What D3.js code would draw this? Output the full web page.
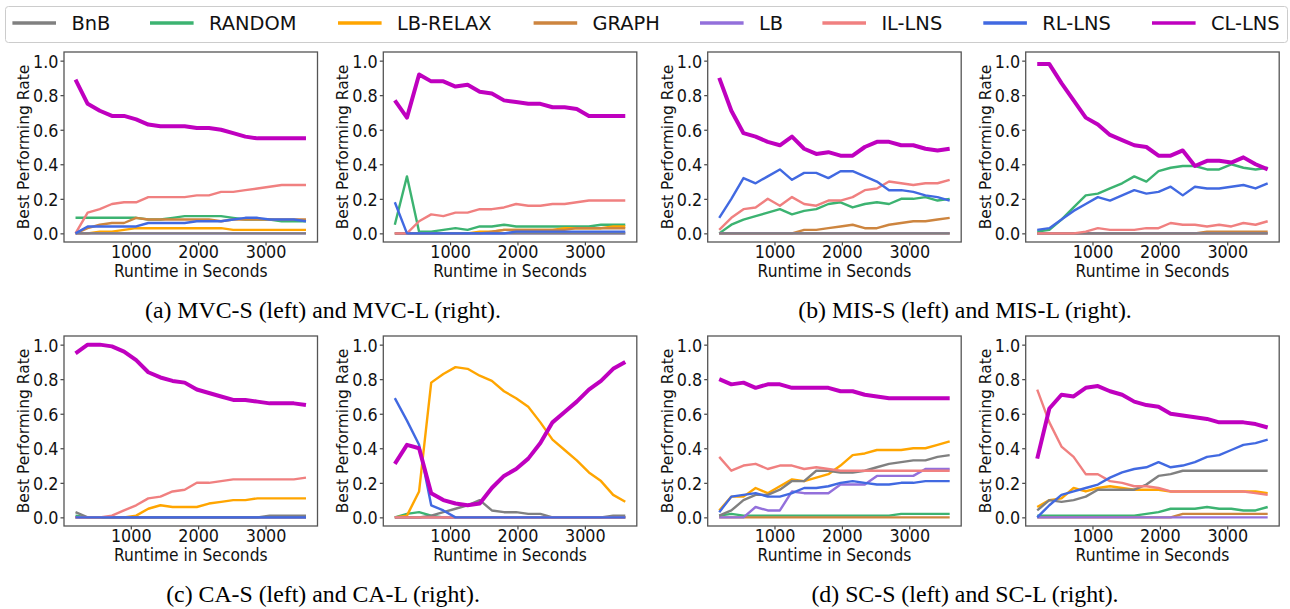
<!DOCTYPE html>
<html>
<head>
<meta charset="utf-8">
<script src="https://cdn.jsdelivr.net/npm/d3@7"></script>
<style>
  html, body { margin: 0; padding: 0; background: #fff; }
  svg { display: block; }
</style>
</head>
<body>
<svg id="chart" width="1290" height="609"></svg>
<script>
// ---------------- DATA ----------------
const runtimes = [180,360,540,720,900,1080,1260,1440,1620,1800,1980,2160,2340,2520,2700,2880,3060,3240,3420,3600];
const seriesNames = ["BnB","RANDOM","LB-RELAX","GRAPH","LB","IL-LNS","RL-LNS","CL-LNS"];
const seriesColors = ["#808080","#3cb371","#ffa500","#cd853f","#9370db","#f08080","#4169e1","#bf00bf"];
const xTicks = [1000, 2000, 3000];
const yTicks = [0.0, 0.2, 0.4, 0.6, 0.8, 1.0];
const captions = ["(a) MVC-S (left) and MVC-L (right).", "(b) MIS-S (left) and MIS-L (right).",
                  "(c) CA-S (left) and CA-L (right).", "(d) SC-S (left) and SC-L (right)."];
const Z = new Array(20).fill(0);

const mvcS = {
  "BnB": Z,
  "RANDOM":  [0.09,0.09,0.09,0.09,0.09,0.09,0.08,0.08,0.09,0.10,0.10,0.10,0.10,0.09,0.08,0.08,0.08,0.07,0.07,0.07],
  "LB-RELAX":[0.00,0.00,0.01,0.01,0.02,0.03,0.03,0.03,0.03,0.03,0.03,0.03,0.03,0.02,0.02,0.02,0.02,0.02,0.02,0.02],
  "GRAPH":   [0.00,0.03,0.05,0.06,0.06,0.09,0.08,0.08,0.08,0.08,0.08,0.08,0.07,0.08,0.08,0.08,0.08,0.08,0.08,0.08],
  "LB": Z,
  "IL-LNS":  [0.00,0.12,0.14,0.17,0.18,0.18,0.21,0.21,0.21,0.21,0.22,0.22,0.24,0.24,0.25,0.26,0.27,0.28,0.28,0.28],
  "RL-LNS":  [0.00,0.04,0.04,0.04,0.04,0.04,0.06,0.06,0.06,0.06,0.07,0.07,0.07,0.08,0.09,0.09,0.08,0.08,0.08,0.07],
  "CL-LNS":  [0.89,0.75,0.71,0.68,0.68,0.66,0.63,0.62,0.62,0.62,0.61,0.61,0.60,0.58,0.56,0.55,0.55,0.55,0.55,0.55]
};
const mvcL = {
  "BnB": Z,
  "RANDOM":  [0.05,0.33,0.01,0.01,0.02,0.03,0.02,0.04,0.04,0.05,0.04,0.04,0.04,0.04,0.04,0.04,0.04,0.05,0.05,0.05],
  "LB-RELAX":[0.00,0.00,0.00,0.00,0.00,0.00,0.00,0.01,0.01,0.02,0.02,0.02,0.02,0.02,0.03,0.03,0.03,0.03,0.04,0.04],
  "GRAPH":   [0.00,0.00,0.00,0.00,0.00,0.00,0.00,0.00,0.01,0.02,0.02,0.02,0.02,0.02,0.02,0.03,0.03,0.03,0.03,0.03],
  "LB": Z,
  "IL-LNS":  [0.00,0.00,0.07,0.11,0.10,0.12,0.12,0.14,0.14,0.15,0.17,0.16,0.16,0.17,0.17,0.18,0.19,0.19,0.19,0.19],
  "RL-LNS":  [0.18,0.00,0.00,0.00,0.00,0.00,0.00,0.00,0.00,0.00,0.01,0.01,0.01,0.01,0.01,0.01,0.01,0.01,0.01,0.01],
  "CL-LNS":  [0.77,0.67,0.92,0.88,0.88,0.85,0.86,0.82,0.81,0.77,0.76,0.75,0.75,0.73,0.73,0.72,0.68,0.68,0.68,0.68]
};
const misS = {
  "BnB": Z,
  "RANDOM":  [0.00,0.05,0.08,0.10,0.12,0.14,0.11,0.13,0.14,0.17,0.18,0.15,0.17,0.18,0.17,0.20,0.20,0.21,0.19,0.20],
  "LB-RELAX": Z,
  "GRAPH":   [0.00,0.00,0.00,0.00,0.00,0.00,0.00,0.02,0.02,0.03,0.04,0.05,0.03,0.03,0.05,0.06,0.07,0.07,0.08,0.09],
  "LB": Z,
  "IL-LNS":  [0.02,0.09,0.14,0.15,0.20,0.16,0.21,0.17,0.16,0.19,0.19,0.21,0.25,0.26,0.30,0.29,0.28,0.29,0.29,0.31],
  "RL-LNS":  [0.09,0.20,0.32,0.29,0.33,0.37,0.31,0.35,0.35,0.32,0.36,0.36,0.33,0.30,0.25,0.25,0.24,0.22,0.21,0.19],
  "CL-LNS":  [0.90,0.71,0.58,0.56,0.53,0.51,0.56,0.49,0.46,0.47,0.45,0.45,0.50,0.53,0.53,0.51,0.51,0.49,0.48,0.49]
};
const misL = {
  "BnB": Z,
  "RANDOM":  [0.01,0.02,0.08,0.15,0.22,0.23,0.26,0.29,0.33,0.30,0.36,0.38,0.39,0.39,0.37,0.37,0.40,0.38,0.37,0.38],
  "LB-RELAX": Z,
  "GRAPH":   [0.00,0.00,0.00,0.00,0.00,0.00,0.00,0.00,0.00,0.00,0.00,0.00,0.00,0.00,0.01,0.01,0.01,0.01,0.01,0.01],
  "LB": Z,
  "IL-LNS":  [0.00,0.00,0.00,0.00,0.01,0.03,0.02,0.02,0.02,0.03,0.03,0.06,0.05,0.05,0.04,0.05,0.04,0.06,0.05,0.07],
  "RL-LNS":  [0.02,0.03,0.08,0.13,0.17,0.21,0.19,0.22,0.25,0.23,0.24,0.27,0.22,0.27,0.26,0.26,0.27,0.28,0.26,0.29],
  "CL-LNS":  [0.98,0.98,0.87,0.77,0.67,0.63,0.57,0.54,0.51,0.50,0.45,0.45,0.48,0.39,0.42,0.42,0.41,0.44,0.40,0.37]
};
const caS = {
  "BnB":     [0.03,0.00,0.00,0.00,0.00,0.00,0.00,0.00,0.00,0.00,0.00,0.00,0.00,0.00,0.00,0.00,0.01,0.01,0.01,0.01],
  "RANDOM":  [0.01,0.00,0.00,0.00,0.00,0.00,0.00,0.00,0.00,0.00,0.00,0.00,0.00,0.00,0.00,0.00,0.00,0.00,0.00,0.00],
  "LB-RELAX":[0.00,0.00,0.00,0.00,0.00,0.01,0.05,0.07,0.06,0.06,0.06,0.08,0.09,0.10,0.10,0.11,0.11,0.11,0.11,0.11],
  "GRAPH": Z,
  "LB": Z,
  "IL-LNS":  [0.00,0.00,0.00,0.01,0.04,0.07,0.11,0.12,0.15,0.16,0.20,0.20,0.21,0.22,0.22,0.22,0.22,0.22,0.22,0.23],
  "RL-LNS": Z,
  "CL-LNS":  [0.95,1.00,1.00,0.99,0.96,0.91,0.84,0.81,0.79,0.78,0.74,0.72,0.70,0.68,0.68,0.67,0.66,0.66,0.66,0.65]
};
const caL = {
  "BnB":     [0.00,0.00,0.00,0.01,0.03,0.05,0.07,0.10,0.04,0.03,0.03,0.02,0.02,0.00,0.00,0.00,0.00,0.00,0.01,0.01],
  "RANDOM":  [0.00,0.02,0.03,0.01,0.00,0.00,0.00,0.00,0.00,0.00,0.00,0.00,0.00,0.00,0.00,0.00,0.00,0.00,0.00,0.00],
  "LB-RELAX":[0.00,0.01,0.15,0.78,0.83,0.87,0.86,0.82,0.79,0.73,0.69,0.64,0.55,0.45,0.39,0.33,0.26,0.21,0.13,0.09],
  "GRAPH": Z,
  "LB": Z,
  "IL-LNS": Z,
  "RL-LNS":  [0.69,0.56,0.42,0.07,0.04,0.00,0.00,0.00,0.00,0.00,0.00,0.00,0.00,0.00,0.00,0.00,0.00,0.00,0.00,0.00],
  "CL-LNS":  [0.31,0.42,0.40,0.14,0.10,0.08,0.07,0.08,0.17,0.24,0.28,0.34,0.43,0.55,0.61,0.67,0.74,0.79,0.86,0.90]
};
const scS = {
  "BnB":     [0.01,0.04,0.10,0.13,0.13,0.16,0.21,0.21,0.27,0.27,0.26,0.26,0.27,0.29,0.31,0.32,0.33,0.33,0.35,0.36],
  "RANDOM":  [0.01,0.02,0.01,0.01,0.01,0.01,0.01,0.01,0.01,0.01,0.01,0.01,0.01,0.01,0.01,0.02,0.02,0.02,0.02,0.02],
  "LB-RELAX":[0.04,0.12,0.12,0.17,0.14,0.18,0.22,0.21,0.23,0.25,0.30,0.36,0.37,0.39,0.39,0.39,0.40,0.40,0.42,0.44],
  "GRAPH": Z,
  "LB":      [0.00,0.00,0.00,0.06,0.04,0.04,0.15,0.14,0.14,0.14,0.19,0.19,0.19,0.24,0.24,0.24,0.24,0.28,0.28,0.28],
  "IL-LNS":  [0.35,0.27,0.30,0.31,0.28,0.30,0.30,0.28,0.29,0.28,0.27,0.27,0.27,0.27,0.27,0.27,0.27,0.27,0.27,0.27],
  "RL-LNS":  [0.03,0.12,0.13,0.14,0.12,0.12,0.14,0.17,0.17,0.18,0.20,0.21,0.20,0.19,0.19,0.20,0.20,0.21,0.21,0.21],
  "CL-LNS":  [0.80,0.77,0.78,0.75,0.77,0.77,0.75,0.75,0.75,0.75,0.73,0.73,0.71,0.70,0.69,0.69,0.69,0.69,0.69,0.69]
};
const scL = {
  "BnB":     [0.04,0.10,0.09,0.10,0.12,0.16,0.16,0.16,0.16,0.19,0.24,0.25,0.27,0.27,0.27,0.27,0.27,0.27,0.27,0.27],
  "RANDOM":  [0.01,0.01,0.01,0.01,0.01,0.01,0.01,0.01,0.01,0.02,0.03,0.05,0.05,0.05,0.06,0.05,0.05,0.04,0.04,0.06],
  "LB-RELAX":[0.06,0.10,0.11,0.17,0.15,0.17,0.18,0.17,0.16,0.16,0.16,0.15,0.15,0.15,0.15,0.15,0.15,0.15,0.15,0.14],
  "GRAPH":   [0.00,0.00,0.00,0.00,0.00,0.00,0.00,0.00,0.00,0.00,0.00,0.00,0.02,0.02,0.02,0.02,0.02,0.02,0.02,0.02],
  "LB": Z,
  "IL-LNS":  [0.74,0.55,0.41,0.35,0.25,0.25,0.21,0.20,0.18,0.18,0.17,0.15,0.15,0.15,0.15,0.15,0.15,0.15,0.14,0.13],
  "RL-LNS":  [0.00,0.07,0.13,0.15,0.17,0.19,0.23,0.26,0.28,0.29,0.32,0.29,0.30,0.32,0.35,0.36,0.39,0.42,0.43,0.45],
  "CL-LNS":  [0.34,0.63,0.71,0.70,0.75,0.76,0.73,0.71,0.67,0.65,0.64,0.60,0.59,0.58,0.57,0.55,0.55,0.55,0.54,0.52]
};

// ---------------- LAYOUT ----------------
const svg = d3.select("#chart");
const SANS = "DejaVu Sans";
const colLeft = [64, 383.3, 707.7, 1025.7];
const colWidth = 253.5;
const rowTop = [52, 336];
const rowHeight = 190;
const panels = [
  {d: mvcS, c: 0, r: 0}, {d: mvcL, c: 1, r: 0}, {d: misS, c: 2, r: 0}, {d: misL, c: 3, r: 0},
  {d: caS, c: 0, r: 1}, {d: caL, c: 1, r: 1}, {d: scS, c: 2, r: 1}, {d: scL, c: 3, r: 1}
];
const drawOrder = ["RANDOM","LB-RELAX","GRAPH","LB","BnB","IL-LNS","RL-LNS","CL-LNS"];
const color = d3.scaleOrdinal().domain(seriesNames).range(seriesColors);
const xExt = d3.extent(runtimes), xPad = (xExt[1]-xExt[0])*0.05;
const TICK_FS = 16, LABEL_FS = 15.5, SY = 1.12;

panels.forEach(p => {
  const L = colLeft[p.c], T = rowTop[p.r], W = colWidth, H = rowHeight;
  const x = d3.scaleLinear().domain([xExt[0]-xPad, xExt[1]+xPad]).range([L, L+W]);
  const y = d3.scaleLinear().domain([-0.05, 1.05]).range([T+H, T]);
  const g = svg.append("g");

  const line = d3.line().x((v,i) => x(runtimes[i])).y(v => y(v));
  drawOrder.forEach(name => {
    g.append("path")
      .attr("d", line(p.d[name]))
      .attr("fill", "none")
      .attr("stroke", color(name))
      .attr("stroke-width", name === "CL-LNS" ? 4 : 2.4)
      .attr("stroke-linejoin", "round")
      .attr("stroke-linecap", "butt");
  });

  // axes
  const xa = g.append("g").attr("transform", `translate(0,${T+H})`)
    .call(d3.axisBottom(x).tickValues(xTicks).tickFormat(d3.format("d")).tickSize(3.5));
  const ya = g.append("g").attr("transform", `translate(${L},0)`)
    .call(d3.axisLeft(y).tickValues(yTicks).tickFormat(d3.format(".1f")).tickSize(3.5));
  [xa, ya].forEach(a => {
    a.select(".domain").remove();
    a.selectAll(".tick line").attr("stroke", "#333").attr("stroke-width", 1.1);
  });
  xa.selectAll(".tick text")
    .attr("font-family", SANS).attr("font-size", TICK_FS).attr("fill", "#111")
    .attr("dy", null).attr("y", 0)
    .attr("transform", `translate(0,${16}) scale(1,${SY})`);
  ya.selectAll(".tick text")
    .attr("font-family", SANS).attr("font-size", TICK_FS).attr("fill", "#111")
    .attr("dy", null).attr("x", 0).attr("y", 0)
    .attr("transform", `translate(-5.5,${6.4}) scale(1,${SY})`);

  // frame
  g.append("rect").attr("x", L).attr("y", T).attr("width", W).attr("height", H)
    .attr("fill", "none").attr("stroke", "#555").attr("stroke-width", 1.3);

  g.append("text")
    .attr("transform", `translate(${L + W/2},${T + H + 35}) scale(1,${SY})`)
    .attr("text-anchor", "middle").attr("font-family", SANS).attr("font-size", LABEL_FS).attr("fill", "#111")
    .text("Runtime in Seconds");
  g.append("text").attr("transform", `translate(${L-35},${T+H/2}) rotate(-90)`)
    .attr("text-anchor", "middle").attr("font-family", SANS).attr("font-size", LABEL_FS).attr("fill", "#111")
    .text("Best Performing Rate");
});

// captions
const capPos = [[323, 318], [965, 318], [323, 602], [965, 602]];
captions.forEach((t, i) => {
  svg.append("text").attr("x", capPos[i][0]).attr("y", capPos[i][1])
    .attr("text-anchor", "middle").attr("font-family", "Liberation Serif").attr("font-size", 23.8)
    .attr("fill", "#000").text(t);
});

// legend
const lg = svg.append("g");
lg.append("rect").attr("x", 5.5).attr("y", 6.5).attr("width", 1282).attr("height", 36)
  .attr("rx", 3).attr("fill", "#fff").attr("stroke", "#cccccc").attr("stroke-width", 1);
const legendLineX = [12.4, 150, 338, 533.6, 700, 822.4, 983.3, 1152];
seriesNames.forEach((name, i) => {
  const x0 = legendLineX[i];
  lg.append("line").attr("x1", x0).attr("x2", x0 + 43.6).attr("y1", 23).attr("y2", 23)
    .attr("stroke", color(name)).attr("stroke-width", 3.3);
  lg.append("text").attr("x", x0 + 59).attr("y", 30)
    .attr("font-family", SANS).attr("font-size", 19.4).attr("fill", "#111").text(name);
});
</script>
</body>
</html>
